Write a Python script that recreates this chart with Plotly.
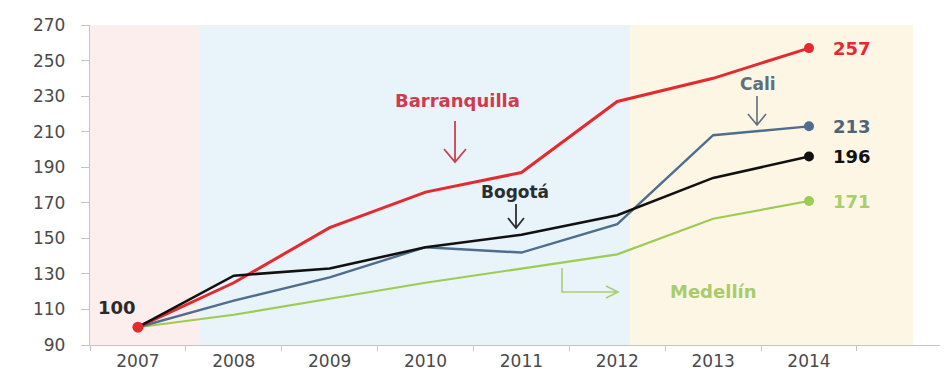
import plotly.graph_objects as go

years = ["2007", "2008", "2009", "2010", "2011", "2012", "2013", "2014"]
barranquilla = [100, 125, 156, 176, 187, 227, 240, 257]
bogota = [100, 129, 133, 145, 152, 163, 184, 196]
cali = [100, 115, 128, 145, 142, 158, 208, 213]
medellin = [100, 107, 116, 125, 133, 141, 161, 171]
yticks = [90, 110, 130, 150, 170, 190, 210, 230, 250, 270]

x = list(range(len(years)))

# page geometry (the html body has an 8px margin)
BODY = 8
W, H = 948 - BODY, 377 - BODY
PLOT_L, PLOT_R, PLOT_T, PLOT_B = 90, 948, 25, 345   # page pixels
ML, MR = PLOT_L - BODY, 0
MT, MB = PLOT_T - BODY, (377 - PLOT_B)
XR = [-0.5, 8.45]
YR = [90, 270]
PW, PH = PLOT_R - PLOT_L, PLOT_B - PLOT_T


def px2x(px):
    return XR[0] + (px - PLOT_L) / PW * (XR[1] - XR[0])


def py2y(py):
    return YR[0] + (PLOT_B - py) / PH * (YR[1] - YR[0])


RED = "#e42a2e"
BLUE = "#4f6d8c"
BLACK = "#111111"
GREEN = "#9ccc52"

fig = go.Figure()

series = [
    ("Barranquilla", barranquilla, RED, 3, RED),
    ("Bogotá", bogota, BLACK, 2.6, BLACK),
    ("Cali", cali, BLUE, 2.4, "#4f6478"),
    ("Medellín", medellin, GREEN, 2.2, "#a9cf6b"),
]
# draw order: green, blue, red, black like reference
for name, vals, col, w, _ in [series[3], series[2], series[0], series[1]]:
    fig.add_trace(go.Scatter(x=x, y=vals, mode="lines", name=name,
                             line=dict(color=col, width=w), showlegend=False,
                             hoverinfo="skip"))
    fig.add_trace(go.Scatter(x=[x[-1]], y=[vals[-1]], mode="markers",
                             marker=dict(color=col, size=10), showlegend=False,
                             hoverinfo="skip"))

# start point marker
fig.add_trace(go.Scatter(x=[x[0]], y=[barranquilla[0]], mode="markers",
                         marker=dict(color=RED, size=11), showlegend=False,
                         hoverinfo="skip"))

shapes = []
# background bands
bands = [(90, 200, "#fdeeee"), (200, 630, "#e9f3fa"), (630, 913, "#fdf6e5")]
for a, b, c in bands:
    shapes.append(dict(type="rect", xref="x", yref="y", x0=px2x(a), x1=px2x(b),
                       y0=YR[0], y1=YR[1], fillcolor=c, line=dict(width=0),
                       layer="below"))


def path_from_px(points_list, color, width=1.6):
    d = ""
    for pts in points_list:
        d += "M" + " L".join(f"{px2x(p[0]):.4f},{py2y(p[1]):.4f}" for p in pts) + " "
    shapes.append(dict(type="path", xref="x", yref="y", path=d.strip(),
                       line=dict(color=color, width=width), layer="above"))


def down_arrow(px, py0, py1, hw, hh, color, width=1.6):
    path_from_px([[(px, py0), (px, py1)],
                  [(px - hw, py1 - hh), (px, py1), (px + hw, py1 - hh)]], color, width)


down_arrow(455, 121, 162, 11, 13, "#c8424f", 1.8)
down_arrow(516, 204, 228, 8, 10, "#2d3033", 1.8)
down_arrow(757, 96, 125, 9, 11, "#5e6e7c", 1.6)
# Medellín L-shaped arrow
path_from_px([[(562, 268), (562, 292), (618, 292)],
              [(606, 286), (618, 292), (606, 298)]], "#a9cf72", 1.6)

annotations = []


def label(px, py, text, color, size=16, bold=True, xanchor="center"):
    annotations.append(dict(xref="x", yref="y", x=px2x(px), y=py2y(py), text=text,
                            showarrow=False, xanchor=xanchor, yanchor="middle",
                            font=dict(family="DejaVu Sans", size=size, color=color,
                                      weight="bold" if bold else "normal")))


label(457, 100, "Barranquilla", "#d13a4c", 18)
label(515, 192, "Bogotá", "#2b2e31", 17)
label(758, 84, "Cali", "#5e6e7c", 17)
label(713, 291, "Medellín", "#a8cc6c", 18)
label(96, 307, "100", "#2a2a2a", 18, xanchor="left")

for name, vals, col, w, ec in series:
    annotations.append(dict(xref="x", yref="y", x=x[-1], y=vals[-1],
                            text=str(vals[-1]), showarrow=False, xanchor="left",
                            yanchor="middle", xshift=22,
                            font=dict(family="DejaVu Sans", size=18, color=ec,
                                      weight="bold")))

fig.update_layout(
    width=W, height=H,
    margin=dict(l=ML, r=MR, t=MT, b=MB, autoexpand=False),
    paper_bgcolor="white", plot_bgcolor="white",
    shapes=shapes, annotations=annotations,
    xaxis=dict(range=XR, tickmode="array", tickvals=x, ticktext=years,
               ticks="", showgrid=False, zeroline=False, automargin=False,
               showline=True, linecolor="#c4c4c4", linewidth=1.3,
               tickfont=dict(family="DejaVu Sans", size=17, color="#4a4a4a"),
               minor=dict(tickmode="linear", tick0=-0.5, dtick=1, ticks="outside",
                          ticklen=5, tickcolor="#c4c4c4", showgrid=False)),
    yaxis=dict(range=YR, tickmode="array", tickvals=yticks,
               ticks="outside", ticklen=8, tickcolor="#c4c4c4", automargin=False,
               showgrid=False, zeroline=False, showline=True,
               linecolor="#c4c4c4", linewidth=1.3, ticklabelstandoff=12,
               tickfont=dict(family="DejaVu Sans", size=17, color="#4a4a4a")),
)

fig.write_html("out.html")
